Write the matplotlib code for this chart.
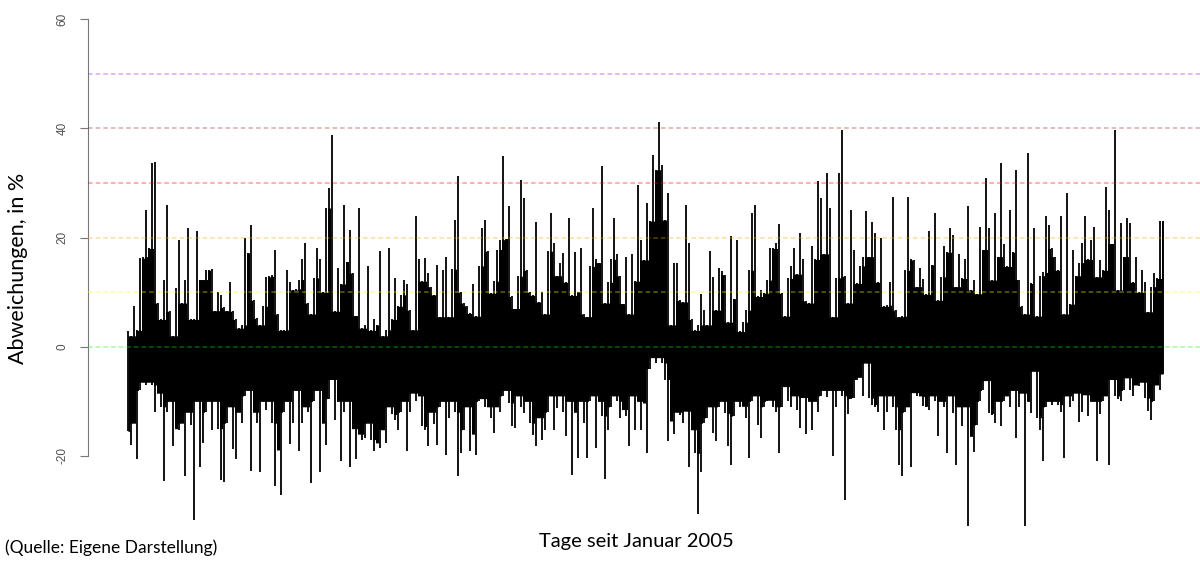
import numpy as np
import matplotlib
matplotlib.use("Agg")
from matplotlib import pyplot as plt

# Tageswerte seit Januar 2005, je Block (ca. 12 Tage) Maximum und Minimum der Abweichung in %
hoch = [
    2.8, 2, 7.5, 3, 16.2, 16.5, 25, 18, 33.6, 33.8, 8, 5, 12.3, 26, 6.5, 2, 10.8, 19.6, 8, 12.3,
    21.7, 5, 5, 21.1, 12.3, 12.3, 14, 14, 14.2, 6.6, 10, 9.4, 7.2, 6.6, 11.9, 6.5, 5, 3.4, 4, 19.9,
    17.2, 22.3, 8.5, 5.2, 4, 7.4, 12.8, 12.9, 13.1, 17.8, 6, 3, 3.1, 14, 11.8, 10.4, 10.6,
    12.3, 16, 19, 8, 6, 12.6, 18, 16, 10, 25.4, 29, 38.8, 6.5, 14.5, 11.5, 26, 15.6, 21.4, 13.5, 5.7,
    25.4, 3.4, 4, 14.7, 3, 5, 4, 17.5, 2, 3.1, 18, 5, 12.5, 7.4, 9.5, 12.3, 11.5, 6.7, 3.1, 23.9,
    16, 12, 16.2, 13.5, 11, 9.5, 15, 5.5, 14, 16.5, 5.5, 14.2, 23.2, 31.2, 10, 8, 7.5,
    6.1, 11.5, 5.6, 14.8, 21.7, 23.2, 17.5, 9.8, 12, 17.8, 19.6, 35, 19.8, 25.7, 9.2, 7, 12.9, 30.6,
    27.2, 14, 10, 9.4, 22.9, 8.2, 10.1, 6, 17.5, 24.5, 19, 13, 15.4, 17.1, 11.8, 23.6, 9.4, 17.3,
    10.1, 18, 6, 5.5, 14.7, 25.4, 16, 15.4, 33, 8, 11.8, 16, 23.6, 17, 13, 7.9, 16.5, 6, 17, 12, 29.7,
    19.6, 15.9, 26.3, 23, 35.1, 32.4, 41.2, 33.3, 23.2, 28.1, 4, 15.4, 15.4, 8.5, 8.2, 26, 19, 5, 3,
    4, 9.6, 6.8, 4, 17.5, 12.8, 6.7, 14.4, 13.8, 13.2, 4.5, 20.2, 8.8, 19.6, 2.8, 4.5, 6.7, 14, 24.5,
    26, 9.2, 10.4, 9.8, 12.2, 18, 18, 19, 22.4, 9.8, 5.6, 12.5, 14.8, 18, 13.3, 20.8, 16, 8.4, 8,
    18.4, 16, 30.3, 27.2, 17, 31.8, 25.4, 5.5, 12.6, 31.8, 39.7, 12.9, 8, 25, 17.8, 11.6, 14.8, 16.5,
    24.8, 16.5, 22.9, 20.8, 11.8, 19.9, 7.4, 7.6, 11.8, 27.5, 6.7, 5.5, 5.6, 14, 27.5, 16, 15.9, 11,
    14.4, 12.4, 9.6, 21.1, 15, 24.5, 8.5, 12.8, 18.4, 17.3, 21.7, 20.5, 11, 17, 12.5, 16, 25.7, 10.4,
    12.3, 9.7, 22,
    17.8, 30.9, 21.7, 12.2, 24.5, 16.5, 33.6, 18.8, 14.7, 25, 17.3, 32.4, 12.3, 7.4, 6, 35.4, 11.6,
    21.7, 5.6, 13, 13.6, 23.9, 22.3, 18, 16.5, 14, 23.9, 6, 28.1, 7.8, 17.8, 13, 15.4, 19, 23.9, 16,
    19.6, 22, 12.8, 15.9, 14, 29.3, 25, 18.9, 39.7, 10.4, 22.6, 16.5, 23.6, 22.7, 11.8, 16.5, 10,
    14.1, 11.8, 6.4, 11, 13.5, 12.5, 23, 23,
]
tief = [
    -15.5, -18, -14, -20.5, -8, -6.5, -7, -6.5, -7, -12, -8.5, -11, -24.5, -12, -10, -18.2, -15,
    -15.3, -14, -23.7, -12, -14.3, -31.8, -10, -22, -17.6, -12, -10, -15.2, -10, -15, -24.4, -24.7,
    -14, -11, -18.7, -20.6, -12, -14, -9, -8, -22.7, -12, -14, -23, -10, -11.5, -10, -14, -25.5,
    -18.9, -27.2, -12, -10, -17.8, -14, -8,
    -19, -14, -11, -12, -25, -10, -8, -23, -14, -18, -9.5, -6, -13.4, -10, -21, -12, -10, -22, -15,
    -20.5, -16, -17, -16.7, -14, -17, -19, -17.6, -18.5, -15.2, -17.6, -11, -12.4, -13.4, -15.2, -12,
    -10, -19, -12, -8.5, -10, -9, -14.6, -15.2, -18.2, -12, -14.2, -18, -11, -10, -19.8, -13, -10,
    -12, -23.7, -19.4, -15.2, -11,
    -19, -16, -19.8, -10, -9.5, -11, -11, -13, -15.8, -11, -12, -9, -8, -10.3, -14.6, -14.9, -9, -11,
    -12.2, -10, -14, -16.1, -18.2, -13, -17, -15.2, -12, -9, -15.2, -11.2, -9, -12, -16.4, -10, -23.4,
    -12, -20.4, -10, -14, -20.4, -10, -9, -18.5, -10, -12.7, -24.3, -15.2, -11, -9, -10, -13, -11.5,
    -12.7, -18.2, -9, -15.2, -10,
    -15.2, -10.3, -19.5, -4, -2, -3, -2, -3, -6, -17.3, -13.6, -16, -12, -12.5, -14, -11.8, -22,
    -15.2, -19.5, -30.7, -23, -14, -13, -11, -15.8, -17.3, -11, -10, -12.2, -18.2, -21.6, -12.7, -10,
    -11, -10.9, -13, -20.4, -10, -9, -14.3, -16.7, -11, -10, -9.8, -11, -12, -19.5, -11, -7.3, -10,
    -11, -9, -11.6, -14.9, -9.3, -16, -10,
    -15.3, -10, -12, -9, -8, -9.2, -8, -20, -11, -8, -9, -28, -12.3, -9.5, -9.3, -6, -5.6, -9, -3,
    -9.4, -10.6, -11, -12, -9, -15.2, -12, -9, -11, -15.2, -21.6, -23.7, -12, -11, -22, -8.4, -9,
    -9.1, -10.9, -11, -11.6, -9, -10, -16.4, -10, -11, -19.5, -9, -12.2, -21.6, -11, -14.6, -11,
    -32.9, -16.4, -19.2, -14.3, -10,
    -8, -6.2, -12.2, -12.5, -14, -10, -14.6, -10, -9, -11, -8, -16.7, -11, -8.5, -32.9, -10, -12.2,
    -4.5, -13, -15.2, -21, -11, -10, -10.6, -10, -10.6, -12, -20.4, -9, -11, -10, -8.5, -13.8, -12,
    -8.8, -12.7, -10, -10, -21, -12.4, -10, -9, -21.6, -6, -9, -9.6, -10, -8, -5.7, -8, -9, -7, -7.2,
    -6.5, -9.4, -11.7, -13.4, -10, -7, -8, -5,
]

# Schwellen und Farben der Hilfslinien
schwellen = [0, 10, 20, 30, 40, 50]
farben = ["#00ff00", "#ffff00", "#ffa500", "#ff0000", "#a52a2a", "#a020f0"]
y_ticks = [-20, 0, 20, 40, 60]

hoch = np.array(hoch)
tief = np.array(tief)
tage = np.arange(len(hoch))

# dichter Kern: Bereich, den auch die Nachbarbloecke erreichen
h_pad = np.pad(hoch, 1, mode="edge")
t_pad = np.pad(tief, 1, mode="edge")
kern_hoch = np.minimum(np.minimum(h_pad[:-2], h_pad[1:-1]), h_pad[2:])
kern_tief = np.maximum(np.maximum(t_pad[:-2], t_pad[1:-1]), t_pad[2:])

fig = plt.figure(figsize=(12, 5.61), dpi=100)
ax = fig.add_axes([88 / 1200, 21 / 561, 1112 / 1200, 530 / 561])

ax.fill_between(tage, kern_tief, kern_hoch, step="mid", color="black", linewidth=0, zorder=2)
ax.vlines(tage, tief, hoch, color="black", linewidth=1.3, zorder=2)

for s, c in zip(schwellen, farben):
    ax.axhline(s, color=c, alpha=0.4, linewidth=1.1, linestyle=(0, (3, 2)), zorder=3)

ax.set_xlim(-40 / 3, len(hoch) - 1 + 37 / 3)
ax.set_ylim(-35.38, 61.65)

for side in ["top", "right", "bottom"]:
    ax.spines[side].set_visible(False)
ax.spines["left"].set_bounds(-20, 60)
ax.spines["left"].set_color("#777777")
ax.spines["left"].set_linewidth(0.8)
ax.set_xticks([])
ax.set_yticks(y_ticks)
ax.set_yticklabels([str(t) for t in y_ticks], rotation=90, va="center",
                   fontsize=8.5, color="#505050", family="Liberation Sans")
ax.tick_params(axis="y", length=6, width=0.8, color="#777777", pad=8)

fig.text(18 / 1200, 1 - 268 / 561, "Abweichungen, in %", rotation=90,
         ha="center", va="center", fontsize=15.5, family="Lato")
fig.text(636 / 1200, 1 - 541 / 561, "Tage seit Januar 2005",
         ha="center", va="center", fontsize=14.5, family="Lato")
fig.text(5 / 1200, 1 - 548 / 561, "(Quelle: Eigene Darstellung)",
         ha="left", va="center", fontsize=12.5, family="Lato")

fig.savefig("out.png", dpi=100)
